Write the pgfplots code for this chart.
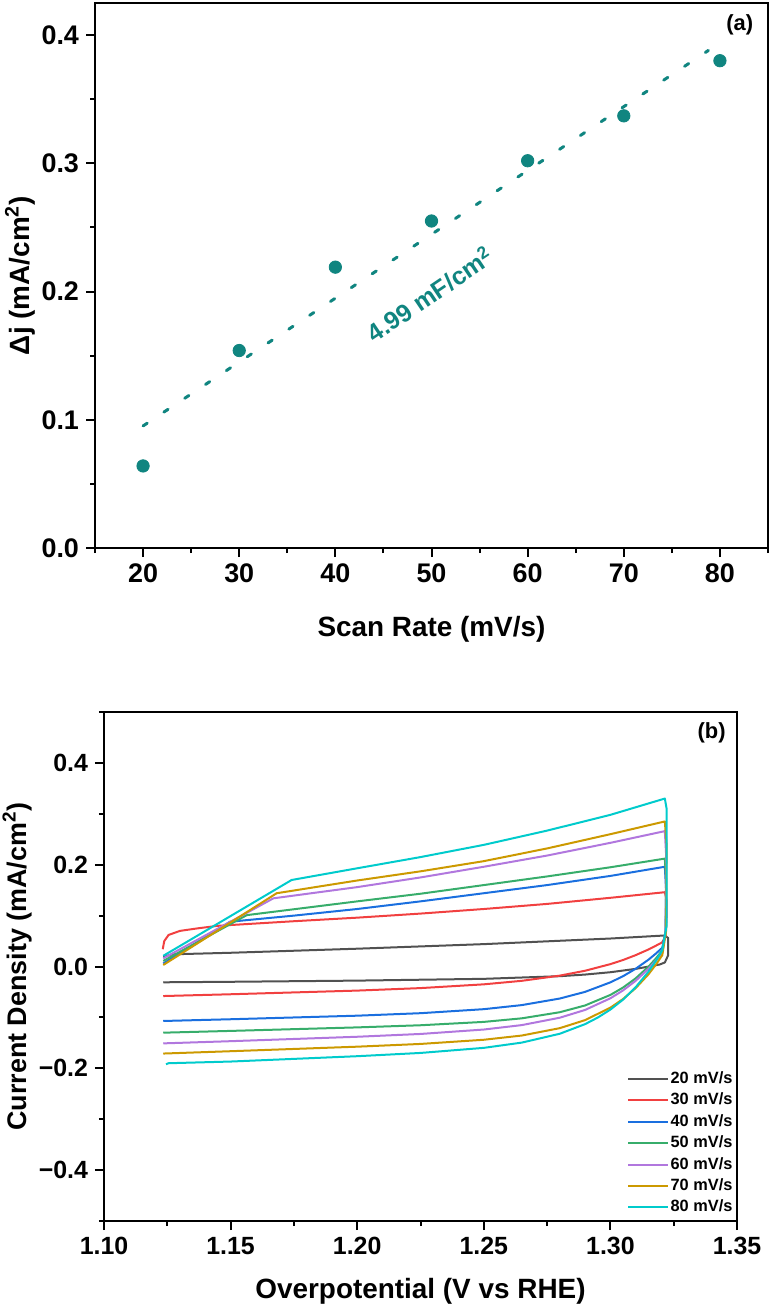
\documentclass[border=0pt]{standalone}
\usepackage{fontspec}
\setmainfont{Liberation Sans}
\usepackage{pgfplots}
\pgfplotsset{compat=1.18}

\definecolor{cteal}{RGB}{16,133,128}
\definecolor{c20}{HTML}{515151}
\definecolor{c30}{HTML}{F14040}
\definecolor{c40}{HTML}{1A6FDF}
\definecolor{c50}{HTML}{37AD6B}
\definecolor{c60}{HTML}{B177DE}
\definecolor{c70}{HTML}{CC9900}
\definecolor{c80}{HTML}{00CBCC}

\pgfplotsset{
  panel/.style={
    scale only axis,
    axis line style={line width=1bp},
    every tick/.style={black,line width=1bp},
    tick align=outside,
    tick pos=left,
    major tick length=4.5bp,
    minor tick length=2.5bp,
    every axis x label/.style={at={(axis description cs:0.5,0)},anchor=center,
      font=\fontsize{14}{14}\selectfont\bfseries},
  },
  cv/.style={line width=1bp, line join=round},
}

\begin{document}
\begin{tikzpicture}
\useasboundingbox (0,0) rectangle (386bp,-656bp);

% (a) double-layer capacitance fit
\begin{axis}[panel,
  at={(47.5bp,-274bp)}, anchor=south west,
  width=336.5bp, height=272.5bp,
  xmin=15, xmax=85, ymin=0, ymax=0.425,
  xtick={20,30,40,50,60,70,80},
  xticklabels={20,30,40,50,60,70,80},
  minor xtick={15,25,35,45,55,65,75,85},
  ytick={0,0.1,0.2,0.3,0.4},
  yticklabels={0.0,0.1,0.2,0.3,0.4},
  minor ytick={0.05,0.15,0.25,0.35},
  tick label style={font=\fontsize{13.5}{13.5}\selectfont\bfseries},
  xlabel={Scan Rate (mV/s)},
  ylabel={Δj (mA/cm\textsuperscript{2})},
  xlabel style={yshift=-40.5bp},
  every axis y label/.style={at={(axis description cs:-0.1114,0.5)},anchor=center,rotate=90,
    font=\fontsize{14}{14}\selectfont\bfseries},
]
\addplot[cteal, line width=1.5bp, line cap=round, dash pattern=on 2.5bp off 10bp]
  coordinates {(20,0.0952) (78.8,0.388)};
\addplot[only marks, mark=*, mark size=3.1bp, cteal]
  coordinates {(20,0.064) (30,0.154) (40,0.219) (50,0.255) (60,0.302) (70,0.337) (80,0.380)};
\node[rotate=34, text=cteal, font=\fontsize{12.5}{12.5}\selectfont\bfseries]
  at (axis cs:49.8,0.198) {4.99 mF/cm\textsuperscript{2}};
\node[font=\fontsize{11}{11}\selectfont\bfseries] at (rel axis cs:0.958,0.96) {(a)};
\end{axis}

% (b) cyclic voltammograms at different scan rates
\begin{axis}[panel,
  at={(52bp,-610.5bp)}, anchor=south west,
  width=316.5bp, height=254.5bp,
  xmin=1.10, xmax=1.35, ymin=-0.5, ymax=0.5,
  xtick={1.10,1.15,1.20,1.25,1.30,1.35},
  xticklabels={1.10,1.15,1.20,1.25,1.30,1.35},
  minor xtick={1.125,1.175,1.225,1.275,1.325},
  ytick={-0.4,-0.2,0,0.2,0.4},
  yticklabels={−0.4,−0.2,0.0,0.2,0.4},
  minor ytick={-0.5,-0.3,-0.1,0.1,0.3,0.5},
  tick label style={font=\fontsize{12.5}{12.5}\selectfont\bfseries},
  xlabel={Overpotential (V vs RHE)},
  ylabel={Current Density (mA/cm\textsuperscript{2})},
  xlabel style={yshift=-35bp},
  every axis y label/.style={at={(axis description cs:-0.1374,0.5)},anchor=center,rotate=90,
    font=\fontsize{13.5}{13.5}\selectfont\bfseries},
  legend style={at={(axis description cs:1,0)}, anchor=south east,
    xshift=-1.5bp, yshift=2.25bp,
    draw=none, fill=none, inner sep=0pt, row sep=2bp,
    font=\fontsize{8.2}{8.2}\selectfont\bfseries,
    nodes={inner sep=0.6bp, text height=6bp, text depth=1.5bp}},
  legend cell align=left,
  legend image code/.code={\draw[#1] (0bp,0bp) -- (20bp,0bp);},
]
% 20 mV/s
\addplot[cv, c20] coordinates {
 (1.1234,0.019) (1.1270,0.024) (1.15,0.027) (1.20,0.035) (1.25,0.044) (1.30,0.055) (1.3215,0.061)
 (1.3228,0.056) (1.3228,0.022) (1.3215,0.008)
 (1.3195,0.004) (1.315,-0.0002) (1.31,-0.0046) (1.30,-0.0112) (1.29,-0.0158) (1.28,-0.019)
 (1.25,-0.0242) (1.20,-0.0277) (1.15,-0.030) (1.1234,-0.031)};
% 30 mV/s
\addplot[cv, c30] coordinates {
 (1.1232,0.034) (1.1238,0.050) (1.1255,0.062) (1.130,0.070) (1.137,0.075) (1.145,0.080) (1.175,0.089)
 (1.20,0.096) (1.225,0.104) (1.25,0.113) (1.275,0.123) (1.30,0.135) (1.3215,0.146)
 (1.3222,0.13) (1.3222,0.10) (1.3218,0.06) (1.3205,0.0476)
 (1.318,0.041) (1.315,0.0334) (1.31,0.0224) (1.305,0.0128) (1.30,0.0047) (1.29,-0.0083) (1.28,-0.0179)
 (1.265,-0.0281) (1.25,-0.035) (1.225,-0.0424) (1.20,-0.0473) (1.15,-0.0545) (1.1234,-0.058)};
% 40 mV/s
\addplot[cv, c40] coordinates {
 (1.1234,0.006) (1.1498,0.088) (1.175,0.100) (1.20,0.113) (1.225,0.128) (1.25,0.144) (1.275,0.160)
 (1.30,0.178) (1.3215,0.196)
 (1.3220,0.15) (1.3218,0.07) (1.3205,0.037)
 (1.318,0.0256) (1.315,0.0133) (1.31,-0.0043) (1.305,-0.019) (1.30,-0.0311) (1.29,-0.0498) (1.28,-0.0629)
 (1.265,-0.0758) (1.25,-0.0838) (1.225,-0.0917) (1.20,-0.0966) (1.15,-0.1036) (1.1234,-0.107)};
% 50 mV/s
\addplot[cv, c50] coordinates {
 (1.1234,0.011) (1.1564,0.101) (1.20,0.128) (1.225,0.143) (1.25,0.160) (1.275,0.177) (1.30,0.195) (1.3215,0.212)
 (1.3220,0.17) (1.3218,0.07) (1.3205,0.0317)
 (1.318,0.016) (1.315,-0.0004) (1.31,-0.0232) (1.305,-0.0413) (1.30,-0.0558) (1.29,-0.0765) (1.28,-0.0898)
 (1.265,-0.1018) (1.25,-0.1088) (1.225,-0.1154) (1.20,-0.1196) (1.15,-0.1265) (1.1234,-0.130)};
% 60 mV/s
\addplot[cv, c60] coordinates {
 (1.1234,0.016) (1.1669,0.134) (1.20,0.156) (1.225,0.175) (1.25,0.196) (1.275,0.218) (1.30,0.243) (1.3215,0.266)
 (1.3220,0.22) (1.3218,0.07) (1.3205,0.0276)
 (1.318,0.012) (1.315,-0.0046) (1.31,-0.028) (1.305,-0.0469) (1.30,-0.0624) (1.29,-0.0853) (1.28,-0.1006)
 (1.265,-0.1151) (1.25,-0.1238) (1.225,-0.1325) (1.20,-0.138) (1.15,-0.1467) (1.1234,-0.151)};
% 70 mV/s
\addplot[cv, c70] coordinates {
 (1.1234,0.003) (1.1682,0.144) (1.20,0.169) (1.225,0.187) (1.25,0.207) (1.275,0.232) (1.30,0.260) (1.3215,0.285)
 (1.3222,0.24) (1.3220,0.07) (1.3205,0.0224)
 (1.318,0.004) (1.315,-0.0155) (1.31,-0.0423) (1.305,-0.0638) (1.30,-0.0808) (1.29,-0.1053) (1.28,-0.1211)
 (1.265,-0.1356) (1.25,-0.1439) (1.225,-0.1521) (1.20,-0.1575) (1.15,-0.1664) (1.1234,-0.171)};
% 80 mV/s
\addplot[cv, c80] coordinates {
 (1.1234,0.021) (1.1741,0.170) (1.20,0.193) (1.225,0.215) (1.25,0.239) (1.275,0.267) (1.30,0.298) (1.3215,0.330)
 (1.3222,0.31) (1.3222,0.08) (1.3205,0.032)
 (1.318,0.0113) (1.315,-0.0103) (1.31,-0.0406) (1.305,-0.065) (1.30,-0.0846) (1.295,-0.1003) (1.29,-0.1132)
 (1.28,-0.1321) (1.265,-0.1495) (1.25,-0.1598) (1.225,-0.1698) (1.20,-0.1762) (1.15,-0.1867)
 (1.1255,-0.190) (1.1245,-0.192)};
\legend{20 mV/s,30 mV/s,40 mV/s,50 mV/s,60 mV/s,70 mV/s,80 mV/s}
\node[font=\fontsize{11}{11}\selectfont\bfseries] at (rel axis cs:0.96,0.959) {(b)};
\end{axis}
\end{tikzpicture}
\end{document}
